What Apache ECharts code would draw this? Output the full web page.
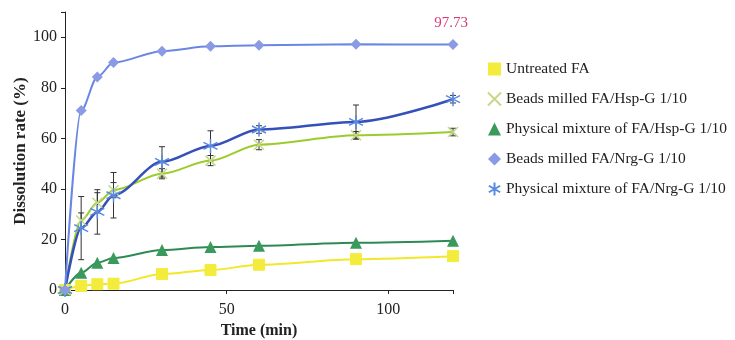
<!DOCTYPE html>
<html><head><meta charset="utf-8">
<script src="https://cdn.jsdelivr.net/npm/echarts@6/dist/echarts.min.js"></script>
<style>html,body{margin:0;padding:0;background:#fff}#c{width:735px;height:340px}</style>
</head><body><div id="c"></div>
<script>
var times = [0, 5, 10, 15, 30, 45, 60, 90, 120];
var untreated = [0, 1.6, 2.3, 2.5, 6.3, 7.9, 10, 12.2, 13.4];
var beadsHsp = [0, 27.5, 34.5, 39.5, 46, 51.2, 57.5, 61.2, 62.5];
var physHsp = [0, 6.8, 10.8, 12.7, 15.8, 17, 17.5, 18.7, 19.5];
var beadsNrg = [0, 71, 84.3, 90, 94.5, 96.4, 96.8, 97.2, 97.1];
var physNrg = [0, 24.5, 30.9, 37.5, 50.7, 57, 63.5, 66.5, 75.5];
var errBeadsHsp = [0, 3, 4, 3, 2, 2, 2, 1.5, 1.5];
var errPhysNrg = [0, 12.5, 8.8, 9, 6, 6, 1.5, 6.7, 1.5];
var yTicks = [0, 20, 40, 60, 80, 100];
var xTicks = [0, 50, 100];
var annotation = '97.73';
var names = ['Untreated FA', 'Beads milled FA/Hsp-G 1/10', 'Physical mixture of FA/Hsp-G 1/10', 'Beads milled FA/Nrg-G 1/10', 'Physical mixture of FA/Nrg-G 1/10'];

var serif = '"Liberation Serif", "DejaVu Serif", serif';
function pairs(arr) { return times.map(function (t, i) { return [t, arr[i]]; }); }
function errData(vals, errs) { return times.map(function (t, i) { return [t, vals[i] - errs[i], vals[i] + errs[i]]; }); }

var xPath = 'path://M-5,-5L5,5M-5,5L5,-5';
var starPath = 'path://M0,-10L0,10M-8.7,-5L8.7,5M-8.7,5L8.7,-5';

function errSeries(vals, errs, name) {
  return {
    type: 'custom', name: name + ' err', z: 1, silent: true,
    renderItem: function (params, api) {
      var x = api.value(0);
      var lo = api.coord([x, api.value(1)]);
      var hi = api.coord([x, api.value(2)]);
      var w = 3;
      var st = { stroke: '#333', lineWidth: 1 };
      return { type: 'group', children: [
        { type: 'line', shape: { x1: lo[0], y1: lo[1], x2: hi[0], y2: hi[1] }, style: st },
        { type: 'line', shape: { x1: lo[0] - w, y1: lo[1], x2: lo[0] + w, y2: lo[1] }, style: st },
        { type: 'line', shape: { x1: hi[0] - w, y1: hi[1], x2: hi[0] + w, y2: hi[1] }, style: st }
      ] };
    },
    data: errData(vals, errs).slice(1)
  };
}

var nrgData = pairs(beadsNrg);
nrgData[nrgData.length - 1] = { value: nrgData[nrgData.length - 1], label: { show: true, position: 'top', distance: 9, offset: [-2, 0], formatter: annotation, color: '#d63a76', fontFamily: serif, fontSize: 15 } };

var chart = echarts.init(document.getElementById('c'));
chart.setOption({
  animation: false,
  grid: { left: 65, top: 12, right: 282, bottom: 50, containLabel: false, outerBoundsMode: 'none' },
  xAxis: {
    type: 'value', min: 0, max: 120, interval: 50,
    name: 'Time (min)', nameLocation: 'middle', nameGap: 33, nameMoveOverlap: false,
    nameTextStyle: { fontFamily: serif, fontSize: 16, fontWeight: 'bold', color: '#222' },
    axisLine: { lineStyle: { color: '#222' } },
    axisTick: { lineStyle: { color: '#222' }, length: 4 },
    axisLabel: { fontFamily: serif, fontSize: 16, color: '#222', margin: 12,
      formatter: function (v) { return xTicks.indexOf(v) >= 0 ? String(v) : ''; } },
    splitLine: { show: false }
  },
  yAxis: {
    type: 'value', min: 0, max: 110, interval: 20,
    name: 'Dissolution rate (%)', nameLocation: 'middle', nameGap: 36, nameMoveOverlap: false,
    nameTextStyle: { fontFamily: serif, fontSize: 17, fontWeight: 'bold', color: '#222' },
    axisLine: { show: true, lineStyle: { color: '#222' } },
    axisTick: { show: true, lineStyle: { color: '#222' }, length: 4 },
    axisLabel: { fontFamily: serif, fontSize: 16, color: '#222', margin: 8,
      formatter: function (v) { return yTicks.indexOf(v) >= 0 ? String(v) : ''; } },
    splitLine: { show: false }
  },
  legend: {
    orient: 'vertical', left: 482, top: 56, itemGap: 14, itemWidth: 13, itemHeight: 13,
    textStyle: { fontFamily: serif, fontSize: 15.5, color: '#222' },
    data: [
      { name: names[0], icon: 'rect' },
      { name: names[1], icon: xPath },
      { name: names[2], icon: 'triangle' },
      { name: names[3], icon: 'diamond' },
      { name: names[4], icon: starPath }
    ]
  },
  series: [
    errSeries(beadsHsp, errBeadsHsp, names[1]),
    errSeries(physNrg, errPhysNrg, names[4]),
    { type: 'line', name: names[0], data: pairs(untreated), smooth: 0.3, smoothMonotone: 'x',
      symbol: 'rect', symbolSize: 11, lineStyle: { color: '#f2e82a', width: 2 },
      itemStyle: { color: '#f4ec3c', borderColor: '#f4ec3c' } },
    { type: 'line', name: names[2], data: pairs(physHsp), smooth: 0.3, smoothMonotone: 'x',
      symbol: 'triangle', symbolSize: 12, lineStyle: { color: '#2e8a55', width: 2 },
      itemStyle: { color: '#3a9a5c' } },
    { type: 'line', name: names[1], data: pairs(beadsHsp), smooth: 0.3, smoothMonotone: 'x',
      symbol: xPath, symbolSize: 10, lineStyle: { color: '#9ccc2c', width: 2 },
      itemStyle: { color: 'rgba(0,0,0,0)', borderColor: '#c4d888', borderWidth: 1.5 } },
    { type: 'line', name: names[4], data: pairs(physNrg), smooth: 0.3, smoothMonotone: 'x',
      symbol: starPath, symbolSize: 14, lineStyle: { color: '#3550b8', width: 2.5 },
      itemStyle: { color: 'rgba(0,0,0,0)', borderColor: '#5a8ae0', borderWidth: 1.5 } },
    { type: 'line', name: names[3], data: nrgData, smooth: 0.3, smoothMonotone: 'x',
      symbol: 'diamond', symbolSize: 11, lineStyle: { color: '#6a86e4', width: 2 },
      itemStyle: { color: '#8a9ae4' } }
  ]
});
</script></body></html>
